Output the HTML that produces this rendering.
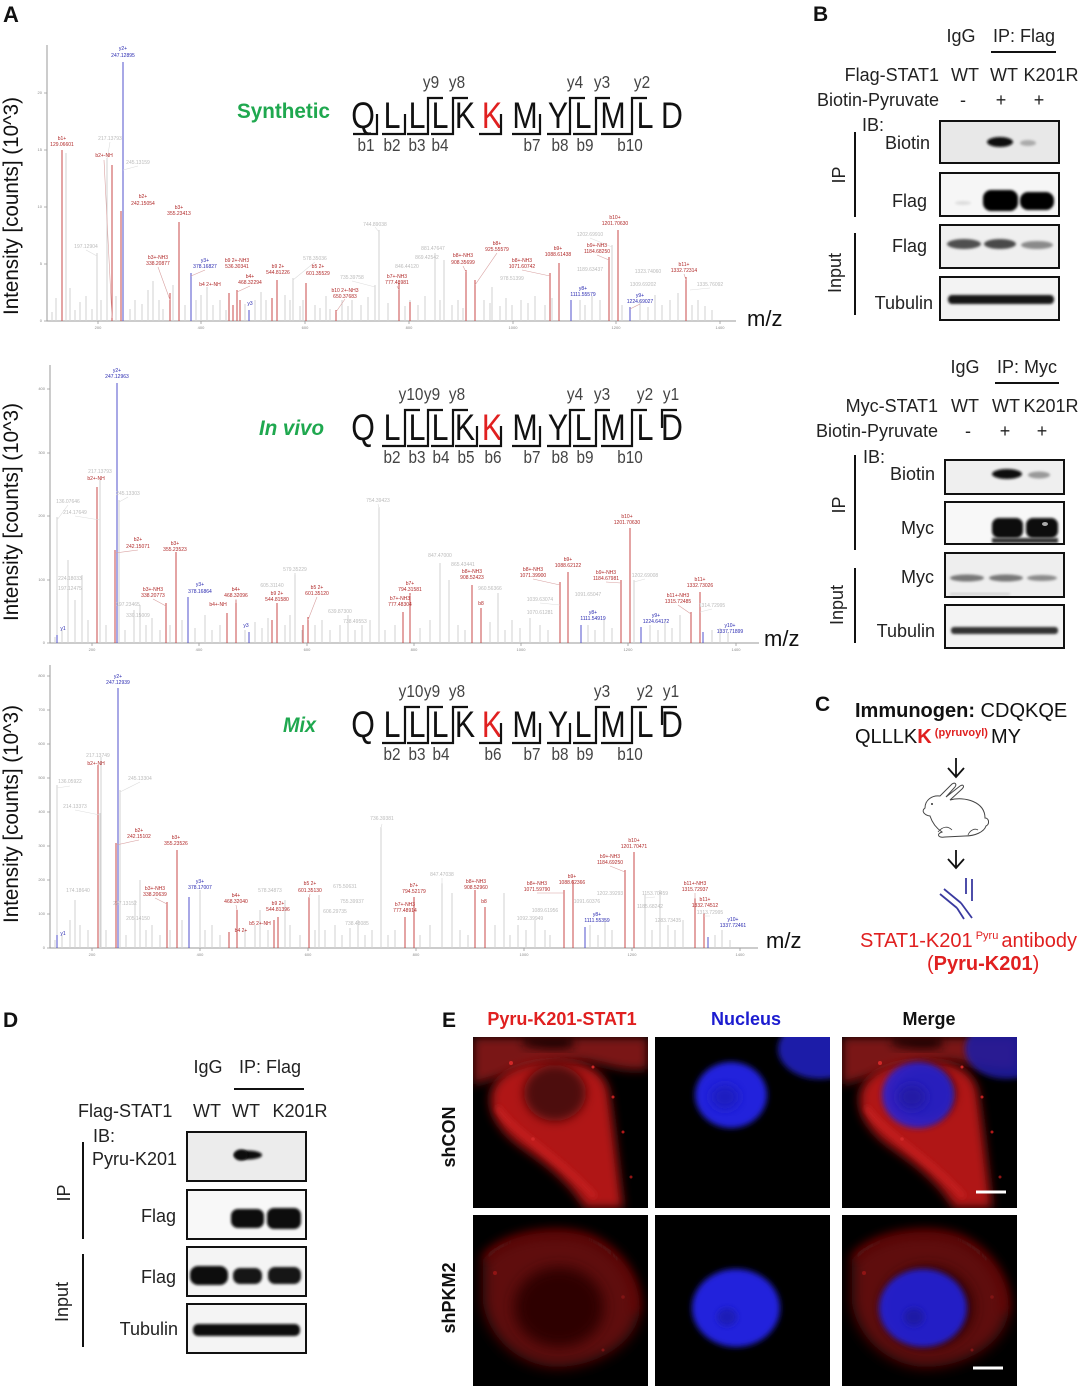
<!DOCTYPE html>
<html><head><meta charset="utf-8"><style>
html,body{margin:0;padding:0;background:#fff;}
svg{display:block;font-family:"Liberation Sans",Arial,sans-serif;}
</style></head><body>
<svg width="1080" height="1386" viewBox="0 0 1080 1386" xmlns="http://www.w3.org/2000/svg">
<defs>
<filter id="f1" x="-30%" y="-60%" width="160%" height="220%"><feGaussianBlur stdDeviation="1.2"/></filter>
<filter id="f2" x="-30%" y="-60%" width="160%" height="220%"><feGaussianBlur stdDeviation="2"/></filter>
<filter id="f3" x="-30%" y="-30%" width="160%" height="160%"><feGaussianBlur stdDeviation="3"/></filter>
<filter id="f5" x="-30%" y="-30%" width="160%" height="160%"><feGaussianBlur stdDeviation="5"/></filter>
<filter id="f7" x="-30%" y="-30%" width="160%" height="160%"><feGaussianBlur stdDeviation="7"/></filter>
<clipPath id="cp"><rect x="0" y="0" width="175" height="171"/></clipPath>
<g id="red1">
 <rect width="175" height="171" fill="#000"/>
 <path d="M0 0H175V32C150 36 130 26 110 24C80 22 50 30 30 38C15 44 5 46 0 48Z" fill="#7a1212" filter="url(#f5)"/>
 <path d="M50 0H100V10C85 14 66 12 50 8Z" fill="#1a0000" filter="url(#f5)"/>
 <path d="M18 58C22 36 48 24 84 24C114 24 132 34 136 56C141 92 145 130 150 171H112C98 146 72 126 46 108C28 94 16 78 18 58Z" fill="#b01616" filter="url(#f5)"/>
 <path d="M24 70C40 95 80 115 122 160" stroke="#c82020" stroke-width="5" fill="none" filter="url(#f3)"/>
 <ellipse cx="82" cy="56" rx="31" ry="28" fill="#4e0808" filter="url(#f5)"/>
 <circle cx="150" cy="95" r="1.5" fill="#b01818"/><circle cx="158" cy="140" r="1.5" fill="#901414"/><circle cx="38" cy="26" r="2" fill="#d02828"/><circle cx="120" cy="30" r="1.5" fill="#d02828"/><circle cx="60" cy="102" r="1.8" fill="#d02828"/><circle cx="140" cy="60" r="1.5" fill="#c02020"/>
</g>
<g id="blue1">
 <ellipse cx="76" cy="58" rx="36" ry="33" fill="#2424dc" filter="url(#f3)"/>
 <ellipse cx="70" cy="60" rx="14" ry="12" fill="#1c1cc0" filter="url(#f5)"/>
 <ellipse cx="165" cy="12" rx="42" ry="30" fill="#1a1aa8" filter="url(#f3)"/>
</g>
<g id="red2">
 <rect width="175" height="171" fill="#000"/>
 <path d="M10 45C28 18 88 10 120 24C150 38 170 70 166 100C160 130 122 152 82 152C46 150 16 124 10 88Z" fill="#5e0c0c" filter="url(#f7)"/>
 <path d="M12 45C30 20 88 12 120 26C148 40 166 70 162 98" stroke="#741010" stroke-width="6" fill="none" filter="url(#f5)"/>
 <ellipse cx="86" cy="92" rx="45" ry="40" fill="#2e0404" filter="url(#f7)"/>
 <circle cx="22" cy="58" r="2" fill="#901414"/><circle cx="150" cy="82" r="1.8" fill="#801414"/><circle cx="130" cy="135" r="1.5" fill="#801414"/>
</g>
<g id="blue2">
 <ellipse cx="81" cy="93" rx="44" ry="39" fill="#2222dc" filter="url(#f3)"/>
 <ellipse cx="72" cy="102" rx="10" ry="9" fill="#1a1ab8" filter="url(#f3)"/>
</g>
</defs>

<rect width="1080" height="1386" fill="#fff"/>

<!-- ============ PANEL A ============ -->
<text x="3" y="22" font-size="22" font-weight="bold" fill="#111">A</text>

<!-- Spectrum 1 -->
<g>
<text transform="translate(18,206) rotate(-90)" text-anchor="middle" font-size="21" fill="#111" textLength="218" lengthAdjust="spacingAndGlyphs">Intensity [counts] (10^3)</text>
<path d="M47 45V321H736" stroke="#999" stroke-width="1" fill="none"/>
<path d="M44 321H47M44 264H47M44 207H47M44 150H47M44 93H47M98 321V324M201 321V324M305 321V324M409 321V324M513 321V324M616 321V324M720 321V324" stroke="#999" stroke-width="0.8"/>
<g font-size="4" fill="#888" text-anchor="end"><text x="42" y="322">0</text><text x="42" y="265">5</text><text x="42" y="208">10</text><text x="42" y="151">15</text><text x="42" y="94">20</text></g>
<g font-size="4" fill="#888" text-anchor="middle"><text x="98" y="329">200</text><text x="201" y="329">400</text><text x="305" y="329">600</text><text x="409" y="329">800</text><text x="513" y="329">1000</text><text x="616" y="329">1200</text><text x="720" y="329">1400</text></g>
<path stroke="#d2d2d2" stroke-width="1" fill="none" d="M52 312V321M56 298V321M66 153V321M70 288V321M75 310V321M80 302V321M86 296V321M92 309V321M97 253V321M101 300V321M107 158V321M116 296V321M130 309V321M135 300V321M142 304V321M148 290V321M153 281V321M159 300V321M163 309V321M173 285V321M185 305V321M196 300V321M201 295V321M207 287V321M213 305V321M220 300V321M226 310V321M245 304V321M255 300V321M261 292V321M266 300V321M285 295V321M290 300V321M293 278V321M300 306V321M303 300V321M315 305V321M320 308V321M326 296V321M330 309V321M342 300V321M348 306V321M352 300V321M361 305V321M368 297V321M375 285V321M379 230V321M388 303V321M405 306V321M410 300V321M418 305V321M425 296V321M435 253V321M440 300V321M444 260V321M452 305V321M458 300V321M463 308V321M484 300V321M490 303V321M492 287V321M500 306V321M506 298V321M512 305V321M521 300V321M528 303V321M535 296V321M545 305V321M552 298V321M580 300V321M585 305V321M592 296V321M600 300V321M612 245V321M622 305V321M640 300V321M648 307V321M655 295V321M662 305V321M670 300V321M678 293V321M692 305V321M698 300V321M705 306V321M712 310V321"/>
<path stroke="#c84a4a" stroke-width="1" fill="none" d="M62 150V321M112 165V321M121 211V321M179 222V321M170 293V321M229 293V321M237 290V321M233 305V321M240 300V321M272 298V321M277 280V321M306 283V321M336 310V321M399 283V321M466 270V321M475 280V321M550 273V321M559 263V321M609 257V321M618 230V321M686 277V321M410 302V321"/>
<path stroke="#5050cc" stroke-width="1" fill="none" d="M123 62V321M191 273V321M249 310V321M571 300V321M630 307V321"/>
<path stroke="#d8a0a0" stroke-width="0.6" fill="none" d="M104 160L112 318M158 267L170 300M205 270L191 276M250 286L237 292M345 299L336 312M397 286L399 290M463 266L466 272M497 253L475 285M522 270L550 276M597 255L609 260M640 304L630 309M684 274L686 280"/>
<path stroke="#ddd" stroke-width="0.6" fill="none" d="M110 142L107 160M138 166L123 170M86 250L97 256M315 262L293 280M352 281L375 287M375 227L379 232M590 238L612 247M710 288L690 290"/>
<g font-size="5" text-anchor="middle" fill="#2828b0"><text x="123" y="50">y2+</text><text x="123" y="57">247.12895</text><text x="205" y="262">y3+</text><text x="205" y="268">378.16827</text><text x="583" y="290">y8+</text><text x="583" y="296">1111.55579</text><text x="640" y="297">y9+</text><text x="640" y="303">1224.69027</text><text x="250" y="305">y3</text></g>
<g font-size="5" text-anchor="middle" fill="#b02828"><text x="62" y="140">b1+</text><text x="62" y="146">129.06601</text><text x="104" y="157">b2+-NH</text><text x="143" y="198">b2+</text><text x="143" y="205">242.15054</text><text x="179" y="209">b3+</text><text x="179" y="215">355.23413</text><text x="158" y="259">b3+-NH3</text><text x="158" y="265">338.20877</text><text x="210" y="286">b4 2+-NH</text><text x="237" y="262">b9 2+-NH3</text><text x="237" y="268">536.30341</text><text x="250" y="278">b4+</text><text x="250" y="284">468.32294</text><text x="278" y="268">b9 2+</text><text x="278" y="274">544.81226</text><text x="318" y="268">b5 2+</text><text x="318" y="275">601.35529</text><text x="345" y="292">b10 2+-NH3</text><text x="345" y="298">650.37683</text><text x="397" y="278">b7+-NH3</text><text x="397" y="284">777.48981</text><text x="463" y="257">b8+-NH3</text><text x="463" y="264">908.35699</text><text x="497" y="245">b8+</text><text x="497" y="251">925.55579</text><text x="522" y="262">b8+-NH3</text><text x="522" y="268">1071.60742</text><text x="558" y="250">b9+</text><text x="558" y="256">1088.61438</text><text x="597" y="247">b9+-NH3</text><text x="597" y="253">1184.68250</text><text x="615" y="219">b10+</text><text x="615" y="225">1201.70630</text><text x="684" y="266">b11+</text><text x="684" y="272">1332.72314</text></g>
<g font-size="5" text-anchor="middle" fill="#bbb"><text x="110" y="140">217.13793</text><text x="138" y="164">245.13159</text><text x="86" y="248">197.12904</text><text x="315" y="260">578.35036</text><text x="352" y="279">735.39758</text><text x="375" y="226">744.89038</text><text x="433" y="250">881.47647</text><text x="427" y="259">869.42542</text><text x="407" y="268">846.44120</text><text x="512" y="280">978.51399</text><text x="590" y="236">1202.69910</text><text x="590" y="271">1189.63437</text><text x="648" y="273">1323.74060</text><text x="643" y="286">1309.69202</text><text x="710" y="286">1335.76092</text></g>
<text x="747" y="326" font-size="22" fill="#111">m/z</text>
</g>

<!-- Spectrum 2 -->
<g>
<text transform="translate(18,512) rotate(-90)" text-anchor="middle" font-size="21" fill="#111" textLength="218" lengthAdjust="spacingAndGlyphs">Intensity [counts] (10^3)</text>
<path d="M50 365V643H759" stroke="#999" stroke-width="1" fill="none"/>
<path d="M47 643H50M47 580H50M47 516H50M47 453H50M47 389H50M92 643V646M199 643V646M307 643V646M414 643V646M521 643V646M628 643V646M736 643V646" stroke="#999" stroke-width="0.8"/>
<g font-size="4" fill="#888" text-anchor="end"><text x="45" y="644">0</text><text x="45" y="581">100</text><text x="45" y="517">200</text><text x="45" y="454">300</text><text x="45" y="390">400</text></g>
<g font-size="4" fill="#888" text-anchor="middle"><text x="92" y="651">200</text><text x="199" y="651">400</text><text x="307" y="651">600</text><text x="414" y="651">800</text><text x="521" y="651">1000</text><text x="628" y="651">1200</text><text x="736" y="651">1400</text></g>
<path stroke="#d2d2d2" stroke-width="1" fill="none" d="M55 637V643M57 517V643M62 630V643M68 560V643M75 600V643M82 575V643M88 620V643M100 480V643M106 625V643M119 500V643M125 630V643M134 610V643M140 605V643M146 625V643M152 618V643M160 630V643M170 625V643M182 620V643M195 628V643M205 615V643M212 630V643M220 625V643M245 630V643M255 622V643M262 628V643M268 618V643M285 625V643M290 615V643M295 573V643M302 630V643M315 625V643M322 620V643M330 630V643M340 625V643M348 615V643M355 630V643M362 625V643M370 620V643M379 507V643M385 630V643M395 625V643M420 628V643M430 620V643M440 563V643M449 580V643M458 625V643M465 630V643M490 622V643M498 593V643M505 630V643M512 620V643M520 628V643M530 618V643M540 625V643M548 630V643M588 625V643M595 630V643M604 620V643M612 628V643M634 580V643M650 625V643M658 630V643M665 620V643M672 628V643M680 615V643M712 630V643M720 628V643M728 632V643"/>
<path stroke="#c84a4a" stroke-width="1" fill="none" d="M97 487V643M115 550V643M176 552V643M166 603V643M227 613V643M236 600V643M277 603V643M272 620V643M308 617V643M303 625V643M403 612V643M410 593V643M472 585V643M481 608V643M560 582V643M568 572V643M621 580V643M630 528V643M691 612V643M700 592V643"/>
<path stroke="#5050cc" stroke-width="1" fill="none" d="M57 635V643M117 383V643M188 597V643M249 632V643M581 625V643M641 627V643M703 632V643"/>
<path stroke="#d8a0a0" stroke-width="0.6" fill="none" d="M138 550L115 553M153 599L166 606M236 599L236 603M317 597L308 620M410 595L410 596M533 579L560 585M606 582L621 583M678 605L691 614"/>
<path stroke="#ddd" stroke-width="0.6" fill="none" d="M68 505L57 520M75 516L100 520M128 497L119 502M295 573L295 575M378 504L379 508M645 579L634 582M540 603L560 605M712 609L700 612"/>
<g font-size="5" text-anchor="middle" fill="#2828b0"><text x="117" y="372">y2+</text><text x="117" y="378">247.12963</text><text x="200" y="586">y3+</text><text x="200" y="593">378.16864</text><text x="593" y="614">y8+</text><text x="593" y="620">1111.54919</text><text x="656" y="617">y9+</text><text x="656" y="623">1224.64172</text><text x="730" y="627">y10+</text><text x="730" y="633">1337.71899</text><text x="63" y="630">y1</text><text x="246" y="627">y3</text></g>
<g font-size="5" text-anchor="middle" fill="#b02828"><text x="96" y="480">b2+-NH</text><text x="138" y="541">b2+</text><text x="138" y="548">242.15071</text><text x="175" y="545">b3+</text><text x="175" y="551">355.23523</text><text x="153" y="591">b3+-NH3</text><text x="153" y="597">338.20773</text><text x="236" y="591">b4+</text><text x="236" y="597">468.32096</text><text x="218" y="606">b4+-NH</text><text x="277" y="595">b9 2+</text><text x="277" y="601">544.81580</text><text x="317" y="589">b5 2+</text><text x="317" y="595">601.35120</text><text x="410" y="585">b7+</text><text x="410" y="591">794.31581</text><text x="400" y="600">b7+-NH3</text><text x="400" y="606">777.48304</text><text x="472" y="573">b8+-NH3</text><text x="472" y="579">908.52423</text><text x="481" y="605">b8</text><text x="533" y="571">b8+-NH3</text><text x="533" y="577">1071.39900</text><text x="568" y="561">b9+</text><text x="568" y="567">1088.62122</text><text x="606" y="574">b9+-NH3</text><text x="606" y="580">1184.67981</text><text x="627" y="518">b10+</text><text x="627" y="524">1201.70630</text><text x="700" y="581">b11+</text><text x="700" y="587">1332.73026</text><text x="678" y="597">b11+-NH3</text><text x="678" y="603">1315.72485</text></g>
<g font-size="5" text-anchor="middle" fill="#bbb"><text x="100" y="473">217.13793</text><text x="68" y="503">136.07646</text><text x="75" y="514">214.17649</text><text x="128" y="495">245.13303</text><text x="70" y="580">224.18033</text><text x="70" y="590">197.12475</text><text x="128" y="606">197.23465</text><text x="138" y="617">330.15009</text><text x="295" y="571">579.35229</text><text x="272" y="587">605.31140</text><text x="340" y="613">639.87300</text><text x="355" y="623">738.49553</text><text x="378" y="502">754.39423</text><text x="440" y="557">847.47000</text><text x="463" y="566">865.43441</text><text x="490" y="590">960.56366</text><text x="645" y="577">1202.69008</text><text x="588" y="596">1091.65047</text><text x="540" y="601">1039.63074</text><text x="540" y="614">1070.61281</text><text x="712" y="607">1314.72995</text></g>
<text x="764" y="646" font-size="22" fill="#111">m/z</text>
</g>

<!-- Spectrum 3 -->
<g>
<text transform="translate(18,814) rotate(-90)" text-anchor="middle" font-size="21" fill="#111" textLength="218" lengthAdjust="spacingAndGlyphs">Intensity [counts] (10^3)</text>
<path d="M50 665V948H758" stroke="#999" stroke-width="1" fill="none"/>
<path d="M47 948H50M47 914H50M47 880H50M47 846H50M47 812H50M47 778H50M47 744H50M47 710H50M47 676H50M92 948V951M200 948V951M308 948V951M416 948V951M524 948V951M632 948V951M740 948V951" stroke="#999" stroke-width="0.8"/>
<g font-size="4" fill="#888" text-anchor="end"><text x="45" y="949">0</text><text x="45" y="915">100</text><text x="45" y="881">200</text><text x="45" y="847">300</text><text x="45" y="813">400</text><text x="45" y="779">500</text><text x="45" y="745">600</text><text x="45" y="711">700</text><text x="45" y="677">800</text></g>
<g font-size="4" fill="#888" text-anchor="middle"><text x="92" y="956">200</text><text x="200" y="956">400</text><text x="308" y="956">600</text><text x="416" y="956">800</text><text x="524" y="956">1000</text><text x="632" y="956">1200</text><text x="740" y="956">1400</text></g>
<path stroke="#d2d2d2" stroke-width="1" fill="none" d="M55 940V948M57 785V948M62 935V948M70 920V948M75 900V948M80 925V948M88 930V948M100 813V948M101 757V948M106 930V948M120 790V948M126 935V948M135 900V948M140 880V948M146 930V948M152 925V948M160 935V948M170 930V948M182 920V948M200 890V948M205 930V948M212 925V948M220 935V948M245 930V948M255 925V948M260 910V948M268 930V948M285 900V948M290 925V948M300 935V948M315 930V948M319 895V948M325 930V948M335 925V948M342 935V948M350 928V948M358 920V948M365 935V948M372 930V948M381 827V948M388 935V948M395 930V948M420 935V948M430 925V948M442 883V948M452 893V948M460 930V948M468 935V948M495 925V948M504 893V948M510 935V948M518 925V948M526 930V948M535 920V948M545 930V948M550 935V948M590 925V948M598 935V948M605 920V948M612 930V948M645 895V948M652 930V948M660 890V948M668 925V948M675 930V948M683 920V948M715 935V948M722 930V948M730 940V948"/>
<path stroke="#c84a4a" stroke-width="1" fill="none" d="M98 765V948M116 843V948M177 850V948M167 902V948M229 932V948M237 910V948M274 920V948M278 917V948M309 897V948M405 917V948M414 897V948M475 890V948M485 907V948M564 890V948M573 880V948M625 870V948M634 852V948M695 898V948M704 913V948"/>
<path stroke="#5050cc" stroke-width="1" fill="none" d="M57 935V948M118 688V948M189 897V948M585 927V948M708 937V948"/>
<path stroke="#d8a0a0" stroke-width="0.6" fill="none" d="M139 840L116 845M155 898L167 904M236 905L237 910M310 894L309 898M537 893L564 893M610 866L625 872M695 893L695 899"/>
<path stroke="#ddd" stroke-width="0.6" fill="none" d="M70 786L57 788M75 810L100 815M140 782L120 792M382 824L381 828M442 878L442 884M655 897L645 898M710 916L704 916"/>
<g font-size="5" text-anchor="middle" fill="#2828b0"><text x="118" y="678">y2+</text><text x="118" y="684">247.12939</text><text x="200" y="883">y3+</text><text x="200" y="889">378.17007</text><text x="597" y="916">y8+</text><text x="597" y="922">1111.55359</text><text x="733" y="921">y10+</text><text x="733" y="927">1337.72461</text><text x="63" y="935">y1</text></g>
<g font-size="5" text-anchor="middle" fill="#b02828"><text x="96" y="765">b2+-NH</text><text x="139" y="832">b2+</text><text x="139" y="838">242.15102</text><text x="176" y="839">b3+</text><text x="176" y="845">355.23526</text><text x="155" y="890">b3+-NH3</text><text x="155" y="896">338.20639</text><text x="236" y="897">b4+</text><text x="236" y="903">468.32040</text><text x="241" y="932">b4 2+</text><text x="278" y="905">b9 2+</text><text x="278" y="911">544.81396</text><text x="260" y="925">b5 2+-NH</text><text x="310" y="885">b5 2+</text><text x="310" y="892">601.35130</text><text x="414" y="887">b7+</text><text x="414" y="893">794.52179</text><text x="405" y="906">b7+-NH3</text><text x="405" y="912">777.48914</text><text x="476" y="883">b8+-NH3</text><text x="476" y="889">908.52960</text><text x="484" y="903">b8</text><text x="537" y="885">b8+-NH3</text><text x="537" y="891">1071.59790</text><text x="572" y="878">b9+</text><text x="572" y="884">1088.62366</text><text x="610" y="858">b9+-NH3</text><text x="610" y="864">1184.69250</text><text x="634" y="842">b10+</text><text x="634" y="848">1201.70471</text><text x="695" y="885">b11+-NH3</text><text x="695" y="891">1315.72937</text><text x="705" y="901">b11+</text><text x="705" y="907">1332.74512</text></g>
<g font-size="5" text-anchor="middle" fill="#bbb"><text x="98" y="757">217.13749</text><text x="70" y="783">136.05922</text><text x="75" y="808">214.13373</text><text x="140" y="780">245.13304</text><text x="78" y="892">174.18640</text><text x="125" y="905">227.13152</text><text x="138" y="920">205.14150</text><text x="270" y="892">578.34873</text><text x="335" y="913">606.29735</text><text x="357" y="925">738.48085</text><text x="352" y="903">755.39937</text><text x="345" y="888">675.50631</text><text x="382" y="820">736.39381</text><text x="442" y="876">847.47038</text><text x="610" y="895">1202.39293</text><text x="587" y="903">1091.60376</text><text x="545" y="912">1089.61956</text><text x="530" y="920">1092.39949</text><text x="655" y="895">1153.70459</text><text x="650" y="908">1185.68242</text><text x="710" y="914">1313.72995</text><text x="668" y="922">1283.73435</text></g>
<text x="766" y="948" font-size="22" fill="#111">m/z</text>
</g>

<!-- Peptide sequences -->
<text x="237" y="118" font-size="21" font-weight="bold" fill="#1fa84f" textLength="93" lengthAdjust="spacingAndGlyphs">Synthetic</text>
<text x="259" y="435" font-size="21" font-weight="bold" font-style="italic" fill="#1fa84f" textLength="65" lengthAdjust="spacingAndGlyphs">In vivo</text>
<text x="283" y="732" font-size="21" font-weight="bold" font-style="italic" fill="#1fa84f" textLength="33" lengthAdjust="spacingAndGlyphs">Mix</text>

<!-- seq 1 (baseline 128) -->
<g font-size="37" fill="#111" text-anchor="middle">
<text transform="translate(363,128) scale(0.82,1)">Q</text><text transform="translate(392,128) scale(0.82,1)">L</text><text transform="translate(417,128) scale(0.82,1)">L</text><text transform="translate(440,128) scale(0.82,1)">L</text><text transform="translate(465,128) scale(0.82,1)">K</text><text transform="translate(492,128) scale(0.82,1)" fill="#e02020">K</text><text transform="translate(525,128) scale(0.82,1)">M</text><text transform="translate(558,128) scale(0.82,1)">Y</text><text transform="translate(583,128) scale(0.82,1)">L</text><text transform="translate(613,128) scale(0.82,1)">M</text><text transform="translate(645,128) scale(0.82,1)">L</text><text transform="translate(672,128) scale(0.82,1)">D</text>
</g>
<g font-size="18" fill="#444" text-anchor="middle">
<text transform="translate(431,88) scale(0.85,1)">y9</text><text transform="translate(457,88) scale(0.85,1)">y8</text><text transform="translate(575,88) scale(0.85,1)">y4</text><text transform="translate(602,88) scale(0.85,1)">y3</text><text transform="translate(642,88) scale(0.85,1)">y2</text>
<text transform="translate(366,151) scale(0.85,1)">b1</text><text transform="translate(392,151) scale(0.85,1)">b2</text><text transform="translate(417,151) scale(0.85,1)">b3</text><text transform="translate(440,151) scale(0.85,1)">b4</text><text transform="translate(532,151) scale(0.85,1)">b7</text><text transform="translate(560,151) scale(0.85,1)">b8</text><text transform="translate(585,151) scale(0.85,1)">b9</text><text transform="translate(630,151) scale(0.85,1)">b10</text>
</g>
<path stroke="#111" stroke-width="2.2" fill="none" d="M353 134H377V114M382 134H405V114M407 134H428V98H443M431 134H453V98H468M479 134H501V114M512 134H540V114M547 134H570V98H585M573 134H596V98H610M601 134H632V98H647"/>

<!-- seq 2 (baseline 440) -->
<g font-size="37" fill="#111" text-anchor="middle">
<text transform="translate(363,440) scale(0.82,1)">Q</text><text transform="translate(392,440) scale(0.82,1)">L</text><text transform="translate(417,440) scale(0.82,1)">L</text><text transform="translate(440,440) scale(0.82,1)">L</text><text transform="translate(465,440) scale(0.82,1)">K</text><text transform="translate(492,440) scale(0.82,1)" fill="#e02020">K</text><text transform="translate(525,440) scale(0.82,1)">M</text><text transform="translate(558,440) scale(0.82,1)">Y</text><text transform="translate(583,440) scale(0.82,1)">L</text><text transform="translate(613,440) scale(0.82,1)">M</text><text transform="translate(645,440) scale(0.82,1)">L</text><text transform="translate(672,440) scale(0.82,1)">D</text>
</g>
<g font-size="18" fill="#444" text-anchor="middle">
<text transform="translate(411,400) scale(0.85,1)">y10</text><text transform="translate(432,400) scale(0.85,1)">y9</text><text transform="translate(457,400) scale(0.85,1)">y8</text><text transform="translate(575,400) scale(0.85,1)">y4</text><text transform="translate(602,400) scale(0.85,1)">y3</text><text transform="translate(645,400) scale(0.85,1)">y2</text><text transform="translate(671,400) scale(0.85,1)">y1</text>
<text transform="translate(392,463) scale(0.85,1)">b2</text><text transform="translate(417,463) scale(0.85,1)">b3</text><text transform="translate(441,463) scale(0.85,1)">b4</text><text transform="translate(466,463) scale(0.85,1)">b5</text><text transform="translate(493,463) scale(0.85,1)">b6</text><text transform="translate(532,463) scale(0.85,1)">b7</text><text transform="translate(560,463) scale(0.85,1)">b8</text><text transform="translate(585,463) scale(0.85,1)">b9</text><text transform="translate(630,463) scale(0.85,1)">b10</text>
</g>
<path stroke="#111" stroke-width="2.2" fill="none" d="M382 446H405V410H420M407 446H428V410H443M431 446H453V410H468M455 446H477V426M479 446H501V426M512 446H540V426M547 446H570V410H585M573 446H596V410H610M601 446H632V410H647M662 428V410H677"/>

<!-- seq 3 (baseline 737) -->
<g font-size="37" fill="#111" text-anchor="middle">
<text transform="translate(363,737) scale(0.82,1)">Q</text><text transform="translate(392,737) scale(0.82,1)">L</text><text transform="translate(417,737) scale(0.82,1)">L</text><text transform="translate(440,737) scale(0.82,1)">L</text><text transform="translate(465,737) scale(0.82,1)">K</text><text transform="translate(492,737) scale(0.82,1)" fill="#e02020">K</text><text transform="translate(525,737) scale(0.82,1)">M</text><text transform="translate(558,737) scale(0.82,1)">Y</text><text transform="translate(583,737) scale(0.82,1)">L</text><text transform="translate(613,737) scale(0.82,1)">M</text><text transform="translate(645,737) scale(0.82,1)">L</text><text transform="translate(672,737) scale(0.82,1)">D</text>
</g>
<g font-size="18" fill="#444" text-anchor="middle">
<text transform="translate(411,697) scale(0.85,1)">y10</text><text transform="translate(432,697) scale(0.85,1)">y9</text><text transform="translate(457,697) scale(0.85,1)">y8</text><text transform="translate(602,697) scale(0.85,1)">y3</text><text transform="translate(645,697) scale(0.85,1)">y2</text><text transform="translate(671,697) scale(0.85,1)">y1</text>
<text transform="translate(392,760) scale(0.85,1)">b2</text><text transform="translate(417,760) scale(0.85,1)">b3</text><text transform="translate(441,760) scale(0.85,1)">b4</text><text transform="translate(493,760) scale(0.85,1)">b6</text><text transform="translate(532,760) scale(0.85,1)">b7</text><text transform="translate(560,760) scale(0.85,1)">b8</text><text transform="translate(585,760) scale(0.85,1)">b9</text><text transform="translate(630,760) scale(0.85,1)">b10</text>
</g>
<path stroke="#111" stroke-width="2.2" fill="none" d="M382 743H405V707H420M407 743H428V707H443M431 743H453V707H468M479 743H501V723M512 743H540V723M547 743H570V723M573 743H596V707H610M601 743H632V707H647M662 725V707H677"/>

<!-- ============ PANEL B ============ -->
<text x="813" y="21" font-size="21" font-weight="bold" fill="#111">B</text>
<g font-size="18" fill="#222">
<text x="961" y="42" text-anchor="middle">IgG</text>
<text x="1024" y="42" text-anchor="middle">IP: Flag</text>
<text x="939" y="81" text-anchor="end">Flag-STAT1</text>
<text x="965" y="81" text-anchor="middle">WT</text>
<text x="1004" y="81" text-anchor="middle">WT</text>
<text x="1051" y="81" text-anchor="middle">K201R</text>
<text x="939" y="106" text-anchor="end">Biotin-Pyruvate</text>
<text x="963" y="106" text-anchor="middle">-</text>
<text x="1001" y="106" text-anchor="middle">+</text>
<text x="1039" y="106" text-anchor="middle">+</text>
<text x="862" y="131">IB:</text>
<text x="930" y="149" text-anchor="end">Biotin</text>
<text x="927" y="207" text-anchor="end">Flag</text>
<text x="927" y="252" text-anchor="end">Flag</text>
<text x="933" y="309" text-anchor="end">Tubulin</text>
<text transform="translate(845,175) rotate(-90)" text-anchor="middle">IP</text>
<text transform="translate(841,273) rotate(-90)" text-anchor="middle">Input</text>
</g>
<path d="M991 52H1056M855 132V217M855 233V315" stroke="#111" stroke-width="2"/>
<rect x="940" y="121" width="119" height="42" fill="#e8e8e8"/>
<ellipse cx="1000" cy="142" rx="13" ry="5" fill="#0a0a0a" filter="url(#f1)"/>
<ellipse cx="1028" cy="143" rx="8" ry="3" fill="#aaa" filter="url(#f1)"/>
<rect x="940" y="173" width="119" height="43" fill="#f6f6f6"/>
<rect x="983" y="190" width="35" height="21" rx="8" fill="#050505" filter="url(#f1)"/>
<rect x="1020" y="192" width="34" height="18" rx="8" fill="#050505" filter="url(#f1)"/>
<ellipse cx="963" cy="203" rx="8" ry="2" fill="#ddd" filter="url(#f1)"/>
<rect x="940" y="225" width="119" height="43" fill="#efefef"/>
<ellipse cx="964" cy="244" rx="17" ry="5" fill="#505050" filter="url(#f1)"/>
<ellipse cx="1000" cy="244" rx="16" ry="5" fill="#4a4a4a" filter="url(#f1)"/>
<ellipse cx="1037" cy="245" rx="16" ry="4" fill="#8a8a8a" filter="url(#f1)"/>
<rect x="940" y="277" width="119" height="43" fill="#f3f3f3"/>
<rect x="948" y="295" width="106" height="9" rx="4" fill="#151515" filter="url(#f1)"/>
<g fill="none" stroke="#111" stroke-width="2">
<rect x="940" y="121" width="119" height="42"/><rect x="940" y="173" width="119" height="43"/><rect x="940" y="225" width="119" height="43"/><rect x="940" y="277" width="119" height="43"/>
</g>

<!-- B lower -->
<g font-size="18" fill="#222">
<text x="965" y="373" text-anchor="middle">IgG</text>
<text x="1027" y="373" text-anchor="middle">IP: Myc</text>
<text x="938" y="412" text-anchor="end">Myc-STAT1</text>
<text x="965" y="412" text-anchor="middle">WT</text>
<text x="1006" y="412" text-anchor="middle">WT</text>
<text x="1051" y="412" text-anchor="middle">K201R</text>
<text x="938" y="437" text-anchor="end">Biotin-Pyruvate</text>
<text x="968" y="437" text-anchor="middle">-</text>
<text x="1005" y="437" text-anchor="middle">+</text>
<text x="1042" y="437" text-anchor="middle">+</text>
<text x="863" y="463">IB:</text>
<text x="935" y="480" text-anchor="end">Biotin</text>
<text x="934" y="534" text-anchor="end">Myc</text>
<text x="934" y="583" text-anchor="end">Myc</text>
<text x="935" y="637" text-anchor="end">Tubulin</text>
<text transform="translate(845,505) rotate(-90)" text-anchor="middle">IP</text>
<text transform="translate(843,605) rotate(-90)" text-anchor="middle">Input</text>
</g>
<path d="M995 383H1059M855 455V550M855 568V643" stroke="#111" stroke-width="2"/>
<rect x="945" y="460" width="119" height="34" fill="#efefef"/>
<ellipse cx="1007" cy="474" rx="15" ry="5" fill="#0a0a0a" filter="url(#f1)"/>
<ellipse cx="1039" cy="475" rx="11" ry="3.5" fill="#999" filter="url(#f1)"/>
<rect x="945" y="502" width="119" height="42" fill="#f8f8f8"/>
<rect x="992" y="518" width="31" height="20" rx="7" fill="#080808" filter="url(#f1)"/>
<rect x="1026" y="518" width="32" height="20" rx="7" fill="#080808" filter="url(#f1)"/>
<rect x="992" y="538" width="66" height="5" fill="#333" filter="url(#f1)"/>
<ellipse cx="1045" cy="524" rx="3" ry="2" fill="#aaa"/>
<rect x="945" y="553" width="119" height="44" fill="#eeeeee"/>
<ellipse cx="967" cy="578" rx="17" ry="3.5" fill="#777" filter="url(#f1)"/>
<ellipse cx="1006" cy="578" rx="17" ry="3.5" fill="#777" filter="url(#f1)"/>
<ellipse cx="1042" cy="578" rx="15" ry="3" fill="#8a8a8a" filter="url(#f1)"/>
<rect x="950" y="593" width="60" height="2" fill="#ccc" filter="url(#f1)"/>
<rect x="945" y="605" width="119" height="43" fill="#f3f3f3"/>
<rect x="951" y="627" width="107" height="7" rx="3" fill="#333" filter="url(#f1)"/>
<g fill="none" stroke="#111" stroke-width="2">
<rect x="945" y="460" width="119" height="34"/><rect x="945" y="502" width="119" height="42"/><rect x="945" y="553" width="119" height="44"/><rect x="945" y="605" width="119" height="43"/>
</g>

<!-- ============ PANEL C ============ -->
<text x="815" y="711" font-size="21" font-weight="bold" fill="#111">C</text>
<text x="855" y="717" font-size="20" fill="#111"><tspan font-weight="bold">Immunogen:</tspan> CDQKQE</text>
<text x="855" y="743" font-size="20" fill="#111">QLLLK<tspan fill="#e02020" font-weight="bold">K</tspan><tspan fill="#e02020" font-weight="bold" font-size="11" dy="-7"> (pyruvoyl) </tspan><tspan dy="7">MY</tspan></text>
<path d="M956 758V777M948 768L956 777L964 768M956 850V868M948 859L956 868L964 859" stroke="#111" stroke-width="1.8" fill="none"/>
<path d="M925 808C925 800 932 795 940 796L952 784C955 782 957 784 955 787L946 797L960 786C963 784 965 786 962 789L950 800C965 796 985 802 985 818C989 818 990 824 986 826C984 832 975 836 965 836L945 837C938 838 936 834 942 832C936 828 932 822 930 816C924 815 921 811 925 808Z" fill="#fff" stroke="#444" stroke-width="1"/>
<path d="M938 832C943 826 948 826 952 830M968 835C970 830 975 828 978 830" fill="none" stroke="#444" stroke-width="0.8"/>
<circle cx="932" cy="804" r="1" fill="#333"/>
<path d="M940 894L957 908M944 889L961 903M957 908L964 919M961 903L972 918M966 878V894M972 879V901" stroke="#3a3aa0" stroke-width="1.8" fill="none"/>
<text x="860" y="947" font-size="20" fill="#e02020">STAT1-K201<tspan font-size="11" dy="-8"> Pyru </tspan><tspan dy="8">antibody</tspan></text>
<text x="927" y="970" font-size="20" fill="#e02020">(<tspan font-weight="bold">Pyru-K201</tspan>)</text>

<!-- ============ PANEL D ============ -->
<text x="3" y="1027" font-size="21" font-weight="bold" fill="#111">D</text>
<g font-size="18" fill="#222">
<text x="208" y="1073" text-anchor="middle">IgG</text>
<text x="270" y="1073" text-anchor="middle">IP: Flag</text>
<text x="78" y="1117">Flag-STAT1</text>
<text x="207" y="1117" text-anchor="middle">WT</text>
<text x="246" y="1117" text-anchor="middle">WT</text>
<text x="300" y="1117" text-anchor="middle">K201R</text>
<text x="93" y="1142">IB:</text>
<text x="92" y="1165">Pyru-K201</text>
<text x="176" y="1222" text-anchor="end">Flag</text>
<text x="176" y="1283" text-anchor="end">Flag</text>
<text x="178" y="1335" text-anchor="end">Tubulin</text>
<text transform="translate(70,1193) rotate(-90)" text-anchor="middle">IP</text>
<text transform="translate(68,1302) rotate(-90)" text-anchor="middle">Input</text>
</g>
<path d="M234 1089H304M83 1142V1239M83 1254V1347" stroke="#111" stroke-width="2"/>
<rect x="187" y="1132" width="119" height="49" fill="#ececec"/>
<ellipse cx="248" cy="1155" rx="14" ry="4.5" fill="#080808" filter="url(#f1)"/>
<ellipse cx="241" cy="1155" rx="7" ry="5.5" fill="#080808" filter="url(#f1)"/>
<rect x="187" y="1190" width="119" height="49" fill="#f8f8f8"/>
<rect x="231" y="1209" width="33" height="19" rx="7" fill="#0a0a0a" filter="url(#f1)"/>
<rect x="267" y="1208" width="34" height="21" rx="7" fill="#0a0a0a" filter="url(#f1)"/>
<rect x="187" y="1247" width="119" height="49" fill="#f4f4f4"/>
<rect x="190" y="1266" width="38" height="19" rx="8" fill="#111" filter="url(#f1)"/>
<rect x="233" y="1268" width="29" height="16" rx="7" fill="#151515" filter="url(#f1)"/>
<rect x="268" y="1267" width="33" height="17" rx="7" fill="#151515" filter="url(#f1)"/>
<rect x="187" y="1304" width="119" height="49" fill="#f4f4f4"/>
<rect x="193" y="1324" width="107" height="12" rx="5" fill="#111" filter="url(#f1)"/>
<g fill="none" stroke="#111" stroke-width="2">
<rect x="187" y="1132" width="119" height="49"/><rect x="187" y="1190" width="119" height="49"/><rect x="187" y="1247" width="119" height="49"/><rect x="187" y="1304" width="119" height="49"/>
</g>

<!-- ============ PANEL E ============ -->
<text x="442" y="1027" font-size="21" font-weight="bold" fill="#111">E</text>
<g font-size="18" font-weight="bold" text-anchor="middle">
<text x="562" y="1025" fill="#e02020">Pyru-K201-STAT1</text>
<text x="746" y="1025" fill="#1c1cd0">Nucleus</text>
<text x="929" y="1025" fill="#111">Merge</text>
<text transform="translate(455,1137) rotate(-90)" fill="#111">shCON</text>
<text transform="translate(455,1298) rotate(-90)" fill="#111">shPKM2</text>
</g>
<!-- row 1 -->
<g transform="translate(473,1037)" clip-path="url(#cp)"><use href="#red1"/></g>
<g transform="translate(655,1037)" clip-path="url(#cp)"><rect width="175" height="171" fill="#000"/><use href="#blue1"/></g>
<g transform="translate(842,1037)" clip-path="url(#cp)"><use href="#red1"/><g opacity="0.85"><use href="#blue1"/></g></g>
<!-- row 2 -->
<g transform="translate(473,1215)" clip-path="url(#cp)"><use href="#red2"/></g>
<g transform="translate(655,1215)" clip-path="url(#cp)"><rect width="175" height="171" fill="#000"/><use href="#blue2"/></g>
<g transform="translate(842,1215)" clip-path="url(#cp)"><use href="#red2"/><g opacity="0.9"><use href="#blue2"/></g></g>
<path d="M976 1192H1006M973 1368H1003" stroke="#fff" stroke-width="3"/>
</svg>
</body></html>
